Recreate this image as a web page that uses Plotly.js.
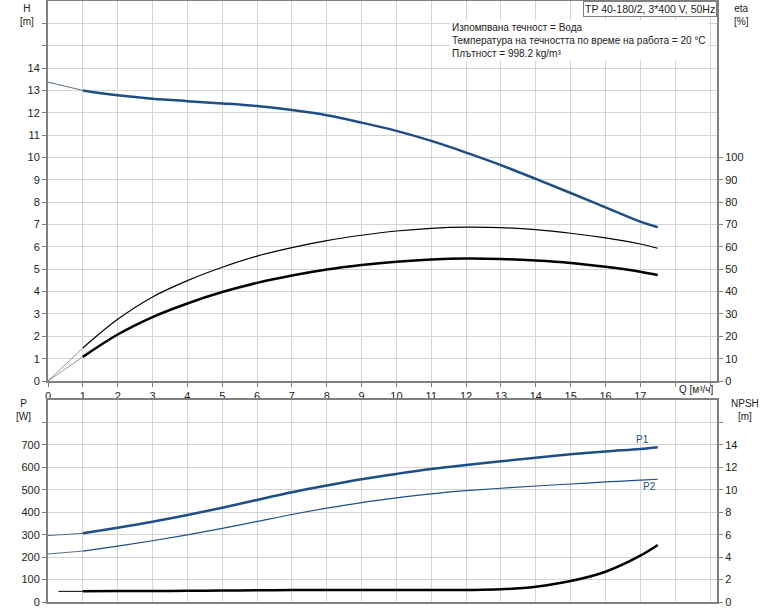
<!DOCTYPE html>
<html>
<head>
<meta charset="utf-8">
<script src="https://cdn.plot.ly/plotly-3.0.1.min.js"></script>
<style>
  html, body { margin: 0; padding: 0; background: #fff; }
  #plot { width: 774px; height: 611px; }
</style>
</head>
<body>
<div id="plot"></div>
<script>
// flow points of the drawn (thick) part of each curve, m3/h
var Q = [1, 2, 3, 4, 5, 6, 7, 8, 9, 10, 11, 12, 13, 14, 15, 16, 17, 17.5];
// head, m
var H = [13.0, 12.78, 12.63, 12.52, 12.42, 12.30, 12.12, 11.89, 11.56, 11.19, 10.74, 10.22, 9.66, 9.04, 8.41, 7.77, 7.13, 6.88];
// efficiencies, %
var etaPump = [14.8, 27.6, 37.6, 44.9, 50.9, 55.9, 59.7, 62.8, 65.2, 67.1, 68.3, 68.8, 68.6, 67.7, 66.1, 64.0, 61.3, 59.4];
var etaTotal = [10.8, 20.8, 28.6, 34.7, 39.8, 43.9, 47.2, 49.9, 51.9, 53.4, 54.4, 54.8, 54.6, 53.9, 52.8, 51.1, 48.9, 47.4];
// power, W
var P1 = [306, 331, 358, 388, 420, 455, 489, 519, 547, 571, 593, 611, 627, 643, 658, 671, 682, 690];
var P2 = [227, 249, 273, 299, 328, 359, 390, 418, 443, 464, 482, 496, 507, 517, 526, 535, 543, 547];
// NPSH, m
var NPSH = [0.95, 0.97, 0.98, 1.0, 1.02, 1.04, 1.06, 1.07, 1.07, 1.06, 1.06, 1.07, 1.13, 1.37, 1.87, 2.7, 4.13, 5.08];

// thin start segments (extrapolated part of the curves)
var Qstart = [0, 1];
var Hstart = [13.37, 13.0];
var etaPumpStart = [0, 14.8];
var etaTotalStart = [0, 10.8];
var P1start = [296, 306];
var P2start = [214, 227];
var QnpshStart = [0.3, 1];
var NPSHstart = [0.95, 0.95];

var xTicks = Array.from({length: 20}, (_, i) => i);
var xText = xTicks.map(v => v <= 17 ? String(v) : '');
var hTicks = Array.from({length: 17}, (_, i) => i);
var hText = hTicks.map(v => v <= 14 ? String(v) : '');
var etaTicks = [0, 10, 20, 30, 40, 50, 60, 70, 80, 90, 100];
var pTicks = [0, 100, 200, 300, 400, 500, 600, 700, 800];
var pText = pTicks.map(v => v <= 700 ? String(v) : '');
var npshTicks = [0, 2, 4, 6, 8, 10, 12, 14, 16];
var npshText = npshTicks.map(v => v <= 14 ? String(v) : '');

var blue = '#1d4f86';
var thin = '#7a7a7a';

var data = [
  {x: Qstart, y: Hstart, xaxis: 'x', yaxis: 'y', mode: 'lines', line: {color: '#5a6f88', width: 1}},
  {x: Q, y: H, xaxis: 'x', yaxis: 'y', mode: 'lines', line: {color: blue, width: 2.5, shape: 'spline'}},
  {x: Qstart, y: etaPumpStart, xaxis: 'x', yaxis: 'y2', mode: 'lines', line: {color: thin, width: 0.8}},
  {x: Q, y: etaPump, xaxis: 'x', yaxis: 'y2', mode: 'lines', line: {color: '#000', width: 1.2, shape: 'spline'}},
  {x: Qstart, y: etaTotalStart, xaxis: 'x', yaxis: 'y2', mode: 'lines', line: {color: thin, width: 0.8}},
  {x: Q, y: etaTotal, xaxis: 'x', yaxis: 'y2', mode: 'lines', line: {color: '#000', width: 2.5, shape: 'spline'}},
  {x: Qstart, y: P1start, xaxis: 'x2', yaxis: 'y3', mode: 'lines', line: {color: '#5a6f88', width: 1}},
  {x: Q, y: P1, xaxis: 'x2', yaxis: 'y3', mode: 'lines', line: {color: blue, width: 2.5, shape: 'spline'}},
  {x: Qstart, y: P2start, xaxis: 'x2', yaxis: 'y3', mode: 'lines', line: {color: '#5a6f88', width: 1}},
  {x: Q, y: P2, xaxis: 'x2', yaxis: 'y3', mode: 'lines', line: {color: blue, width: 1.2, shape: 'spline'}},
  {x: QnpshStart, y: NPSHstart, xaxis: 'x2', yaxis: 'y4', mode: 'lines', line: {color: '#000', width: 1}},
  {x: Q, y: NPSH, xaxis: 'x2', yaxis: 'y4', mode: 'lines', line: {color: '#000', width: 2.5, shape: 'spline'}}
];

var axisBase = {
  showline: true, linecolor: '#808080', linewidth: 2,
  gridcolor: '#d4d4d4', gridwidth: 1,
  ticks: 'outside', ticklen: 4, tickcolor: '#808080',
  tickfont: {size: 11, color: '#222'}, zeroline: false, fixedrange: true
};

var layout = {
  width: 774, height: 611,
  margin: {l: 48, r: 57, t: 1, b: 9},
  paper_bgcolor: '#fff', plot_bgcolor: '#fff',
  showlegend: false,
  font: {family: 'Liberation Sans, Arial, sans-serif', size: 11, color: '#222'},
  xaxis: Object.assign({}, axisBase, {
    domain: [0, 1], range: [0, 19.2], tickvals: xTicks, ticktext: xText,
    anchor: 'y', mirror: true
  }),
  yaxis: Object.assign({}, axisBase, {
    domain: [0.3677, 1], range: [0, 17], tickvals: hTicks, ticktext: hText,
    anchor: 'x'
  }),
  yaxis2: Object.assign({}, axisBase, {
    overlaying: 'y', side: 'right', range: [0, 170], tickvals: etaTicks,
    showgrid: false, anchor: 'x'
  }),
  xaxis2: Object.assign({}, axisBase, {
    domain: [0, 1], range: [0, 19.2], tickvals: xTicks, showticklabels: false,
    anchor: 'y3', mirror: true, ticks: ''
  }),
  yaxis3: Object.assign({}, axisBase, {
    domain: [0, 0.336], range: [0, 900], tickvals: pTicks, ticktext: pText,
    anchor: 'x2'
  }),
  yaxis4: Object.assign({}, axisBase, {
    overlaying: 'y3', side: 'right', range: [0, 18], tickvals: npshTicks, ticktext: npshText,
    showgrid: false, anchor: 'x2'
  }),
  annotations: [
    {xref: 'paper', yref: 'paper', x: -0.031, y: 1.0, text: 'H<br>[m]', showarrow: false, xanchor: 'center', yanchor: 'top', font: {size: 10}, align: 'center'},
    {xref: 'paper', yref: 'paper', x: 1.036, y: 1.0, text: 'eta<br>[%]', showarrow: false, xanchor: 'center', yanchor: 'top', font: {size: 10}, align: 'center'},
    {xref: 'paper', yref: 'paper', x: -0.037, y: 0.343, text: 'P<br>[W]', showarrow: false, xanchor: 'center', yanchor: 'top', font: {size: 10}, align: 'center'},
    {xref: 'paper', yref: 'paper', x: 1.042, y: 0.343, text: 'NPSH<br>[m]', showarrow: false, xanchor: 'center', yanchor: 'top', font: {size: 10}, align: 'center'},
    {xref: 'x', yref: 'paper', x: 18.05, y: 0.366, text: 'Q [м³/ч]', showarrow: false, xanchor: 'left', yanchor: 'top', font: {size: 10}},
    {xref: 'paper', yref: 'paper', x: 1.0, y: 1.0, text: 'TP 40-180/2, 3*400 V, 50Hz', showarrow: false, xanchor: 'right', yanchor: 'top',
      font: {size: 10.5}, bordercolor: '#808080', borderwidth: 1, borderpad: 1, bgcolor: '#fff'},
    {xref: 'paper', yref: 'paper', x: 0.6015, y: 0.968, showarrow: false, xanchor: 'left', yanchor: 'top', align: 'left',
      text: 'Изпомпвана течност = Вода<br>Температура на течността по време на работа = 20 °C<br>Плътност = 998.2 kg/m³',
      font: {size: 10}, bgcolor: '#fff'},
    {xref: 'x2', yref: 'y3', x: 17.3, y: 690, text: 'P1', showarrow: false, xanchor: 'right', yanchor: 'bottom', font: {size: 10, color: blue}},
    {xref: 'x2', yref: 'y3', x: 17.5, y: 548, text: 'P2', showarrow: false, xanchor: 'right', yanchor: 'top', font: {size: 10, color: blue}}
  ]
};

Plotly.newPlot('plot', data, layout, {displayModeBar: false, staticPlot: true});
</script>
</body>
</html>
